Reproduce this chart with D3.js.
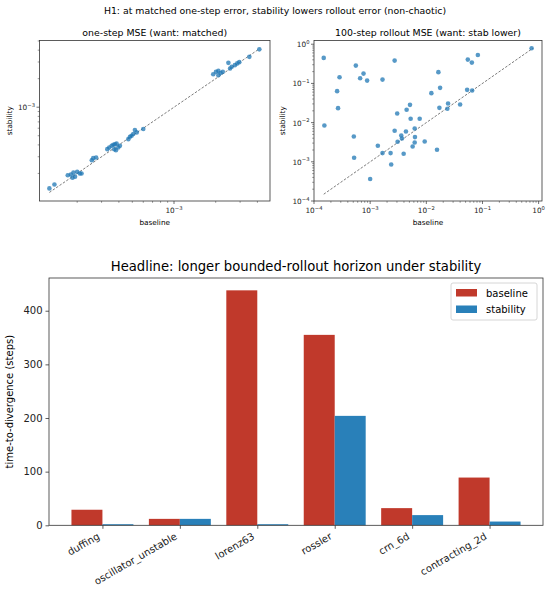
<!DOCTYPE html>
<html>
<head>
<meta charset="utf-8">
<script src="https://cdn.jsdelivr.net/npm/d3@7"></script>
<style>
  body { margin: 0; background: #fff; }
  svg { font-family: "DejaVu Sans", sans-serif; }
</style>
</head>
<body>
<div id="chart"></div>
<script>
// one-step MSE, baseline vs stability
var oneStepBase = [1.26e-4, 1.37e-4, 1.71e-4, 1.80e-4, 1.85e-4, 1.88e-4, 1.93e-4, 2.00e-4, 2.09e-4, 2.15e-4,
  2.55e-4, 2.61e-4, 2.74e-4, 3.30e-4, 3.41e-4, 3.55e-4, 3.65e-4, 3.75e-4, 3.85e-4, 3.81e-4,
  3.96e-4, 4.07e-4, 3.70e-4, 4.68e-4, 4.81e-4, 4.94e-4, 5.08e-4, 5.22e-4, 5.38e-4, 6.00e-4,
  1.92e-3, 2.01e-3, 2.09e-3, 2.17e-3, 2.25e-3, 2.09e-3, 2.47e-3, 2.54e-3, 2.61e-3, 2.75e-3,
  2.86e-3, 2.96e-3, 3.50e-3, 4.13e-3];
var oneStepStab = [1.39e-4, 1.53e-4, 1.91e-4, 1.95e-4, 1.80e-4, 2.04e-4, 1.85e-4, 2.08e-4, 2.00e-4, 2.00e-4,
  2.75e-4, 2.90e-4, 2.94e-4, 3.61e-4, 3.75e-4, 3.92e-4, 4.01e-4, 4.07e-4, 4.14e-4, 3.52e-4,
  3.75e-4, 3.92e-4, 3.60e-4, 4.60e-4, 4.88e-4, 5.00e-4, 5.21e-4, 5.74e-4, 5.42e-4, 5.89e-4,
  2.23e-3, 2.36e-3, 2.42e-3, 2.30e-3, 2.37e-3, 2.17e-3, 2.94e-3, 2.56e-3, 2.67e-3, 2.78e-3,
  2.90e-3, 2.99e-3, 3.40e-3, 4.08e-3];

// 100-step rollout MSE, baseline vs stability
var rolloutBase = [1.49e-4, 2.85e-4, 5.56e-4, 7.62e-4, 6.63e-4, 8.83e-4, 2.73e-3, 1.66e-3, 2.58e-4, 2.68e-4,
  1.53e-4, 5.12e-4, 5.18e-4, 1.00e-3, 1.37e-3, 1.66e-3, 2.31e-3, 2.37e-3, 2.73e-3, 3.03e-3,
  3.08e-3, 3.58e-3, 3.68e-3, 3.95e-3, 4.34e-3, 4.46e-3, 5.12e-3, 5.26e-3, 6.21e-3, 6.28e-3,
  6.21e-3, 5.71e-3, 7.62e-3, 9.36e-3, 0.0123, 0.0164, 0.0176, 0.0171, 0.0155, 0.0244,
  0.0237, 0.040, 0.0548, 0.0647, 0.0828, 0.0533, 0.0655, 0.75];
var rolloutStab = [0.448, 0.144, 0.285, 0.178, 0.136, 0.118, 0.382, 0.125, 0.0635, 0.0234,
  8.44e-3, 4.42e-3, 1.27e-3, 3.64e-4, 2.56e-3, 1.67e-3, 1.67e-3, 8.57e-4, 6.18e-3, 0.0171,
  3.24e-3, 4.69e-3, 3.93e-3, 1.60e-3, 5.93e-3, 0.0212, 0.0284, 0.0125, 7.08e-3, 4.27e-3,
  3.11e-3, 2.46e-3, 0.0125, 3.30e-3, 0.0565, 0.194, 0.077, 0.0238, 2.03e-3, 0.0307,
  0.0225, 0.0289, 0.405, 0.34, 0.533, 0.0685, 0.0658, 0.79];

// time-to-divergence per system
var systems = ["duffing", "oscillator_unstable", "lorenz63", "rossler", "crn_6d", "contracting_2d"];
var ttdBase = [29, 12, 438, 355, 32, 89];
var ttdStab = [2, 12, 2, 204, 19, 7];
var barTicks = [0, 100, 200, 300, 400];

var svg = d3.select("#chart").append("svg")
  .attr("width", 550)
  .attr("height", 597);

var axisColor = "#333";
var dotColor = "#1f77b4";
var baseColor = "#c0392b";
var stabColor = "#2980b9";

svg.append("text")
  .attr("x", 275).attr("y", 14)
  .attr("text-anchor", "middle")
  .attr("font-size", 9.35)
  .text("H1: at matched one-step error, stability lowers rollout error (non-chaotic)");

function supLabel(sel, e) {
  sel.text("");
  sel.append("tspan").text("10");
  sel.append("tspan").attr("dy", -3.5).attr("font-size", "0.72em").text(e < 0 ? "\u2212" + (-e) : String(e));
}

function logTicks(scale, g, orient, majors) {
  var dom = scale.domain();
  var lo = Math.floor(Math.log10(dom[0])), hi = Math.ceil(Math.log10(dom[1]));
  for (var k = lo; k <= hi; k++) {
    for (var m = 1; m <= 9; m++) {
      var v = m * Math.pow(10, k);
      if (v < dom[0] * 0.999 || v > dom[1] * 1.001) continue;
      var p = scale(v);
      var len = m === 1 ? 3 : 1.8;
      if (orient === "bottom") {
        g.append("line").attr("x1", p).attr("x2", p).attr("y1", 0).attr("y2", len)
          .attr("stroke", axisColor).attr("stroke-width", m === 1 ? 0.7 : 0.5);
        if (m === 1 && majors) {
          g.append("text").attr("x", p).attr("y", 12).attr("text-anchor", "middle")
            .attr("font-size", 7.3).attr("fill", "#222").call(supLabel, k);
        }
      } else {
        g.append("line").attr("x1", 0).attr("x2", -len).attr("y1", p).attr("y2", p)
          .attr("stroke", axisColor).attr("stroke-width", m === 1 ? 0.7 : 0.5);
        if (m === 1 && majors) {
          g.append("text").attr("x", -4.5).attr("y", p + 3).attr("text-anchor", "end")
            .attr("font-size", 7.3).attr("fill", "#222").call(supLabel, k);
        }
      }
    }
  }
}

function scatterPanel(box, xDom, yDom, xs, ys, title) {
  var x = d3.scaleLog().domain(xDom).range([box.x0, box.x1]);
  var y = d3.scaleLog().domain(yDom).range([box.y1, box.y0]);
  var g = svg.append("g");

  var pts = xs.map(function(v, i) { return {b: v, s: ys[i]}; });
  var all = xs.concat(ys);
  var lo = d3.min(all), hi = d3.max(all);

  g.append("line")
    .attr("x1", x(lo)).attr("y1", y(lo))
    .attr("x2", x(hi)).attr("y2", y(hi))
    .attr("stroke", "#000").attr("stroke-opacity", 0.65)
    .attr("stroke-width", 0.8).attr("stroke-dasharray", "2.5,1.6");

  g.selectAll("circle")
    .data(pts)
    .enter()
    .append("circle")
    .attr("cx", d => x(d.b))
    .attr("cy", d => y(d.s))
    .attr("r", 2.3)
    .attr("fill", dotColor)
    .attr("opacity", 0.75);

  g.append("rect")
    .attr("x", box.x0).attr("y", box.y0)
    .attr("width", box.x1 - box.x0).attr("height", box.y1 - box.y0)
    .attr("fill", "none").attr("stroke", axisColor).attr("stroke-width", 0.8);

  var gx = g.append("g").attr("transform", `translate(0, ${box.y1})`);
  logTicks(x, gx, "bottom", true);
  var gy = g.append("g").attr("transform", `translate(${box.x0}, 0)`);
  logTicks(y, gy, "left", true);

  g.append("text")
    .attr("x", (box.x0 + box.x1) / 2).attr("y", box.y0 - 4.5)
    .attr("text-anchor", "middle").attr("font-size", 9.4)
    .text(title);
  g.append("text")
    .attr("x", (box.x0 + box.x1) / 2).attr("y", box.y1 + 24)
    .attr("text-anchor", "middle").attr("font-size", 7.3)
    .text("baseline");
  g.append("text")
    .attr("transform", `translate(${box.x0 - (box.labelGap || 29)}, ${(box.y0 + box.y1) / 2}) rotate(-90)`)
    .attr("text-anchor", "middle").attr("font-size", 7.3)
    .text("stability");
}

scatterPanel({x0: 39.5, x1: 270, y0: 40.5, y1: 201, labelGap: 28},
  [Math.pow(10, -3.971), Math.pow(10, -2.307)],
  [Math.pow(10, -3.99), Math.pow(10, -2.296)],
  oneStepBase, oneStepStab, "one-step MSE (want: matched)");

scatterPanel({x0: 314, x1: 542, y0: 40.5, y1: 201, labelGap: 29},
  [1e-4, Math.pow(10, 0.06)],
  [1e-4, Math.pow(10, 0.095)],
  rolloutBase, rolloutStab, "100-step rollout MSE (want: stab lower)");

// bar chart
var bm = {left: 49, right: 543, top: 278, bottom: 525.3};
var xBar = d3.scaleLinear().domain([-0.69, 5.69]).range([bm.left, bm.right]);
var yBar = d3.scaleLinear().domain([0, 461]).range([bm.bottom, bm.top]);
var bw = 0.4;
var bars = svg.append("g");

bars.selectAll("rect.base")
  .data(ttdBase)
  .enter()
  .append("rect")
  .attr("class", "base")
  .attr("x", (d, i) => xBar(i - bw))
  .attr("y", d => yBar(d))
  .attr("width", xBar(bw) - xBar(0))
  .attr("height", d => yBar(0) - yBar(d))
  .attr("fill", baseColor);

bars.selectAll("rect.stab")
  .data(ttdStab)
  .enter()
  .append("rect")
  .attr("class", "stab")
  .attr("x", (d, i) => xBar(i))
  .attr("y", d => yBar(d))
  .attr("width", xBar(bw) - xBar(0))
  .attr("height", d => yBar(0) - yBar(d))
  .attr("fill", stabColor);

var leftAxis = d3.axisLeft(yBar).tickValues(barTicks).tickSize(3.5).tickPadding(3);
var gyb = svg.append("g").attr("transform", `translate(${bm.left}, 0)`).call(leftAxis);
gyb.select(".domain").remove();
gyb.selectAll("text").attr("font-size", 10).attr("font-family", "DejaVu Sans").attr("fill", "#222");
gyb.selectAll("line").attr("stroke", axisColor).attr("stroke-width", 0.8);

var bottomAxis = d3.axisBottom(xBar).tickValues(d3.range(systems.length))
  .tickFormat(i => systems[i]).tickSize(3.5).tickPadding(3);
var gxb = svg.append("g").attr("transform", `translate(0, ${bm.bottom})`).call(bottomAxis);
gxb.select(".domain").remove();
gxb.selectAll("line").attr("stroke", axisColor).attr("stroke-width", 0.8);
gxb.selectAll("text")
  .attr("font-size", 10).attr("font-family", "DejaVu Sans").attr("fill", "#222")
  .attr("text-anchor", "end")
  .attr("dy", null).attr("y", 0)
  .attr("transform", "translate(-2.5, 13) rotate(-30)");

svg.append("rect")
  .attr("x", bm.left).attr("y", bm.top)
  .attr("width", bm.right - bm.left).attr("height", bm.bottom - bm.top)
  .attr("fill", "none").attr("stroke", axisColor).attr("stroke-width", 0.8);

svg.append("text")
  .attr("x", (bm.left + bm.right) / 2).attr("y", bm.top - 7)
  .attr("text-anchor", "middle").attr("font-size", 13.2)
  .text("Headline: longer bounded-rollout horizon under stability");

svg.append("text")
  .attr("transform", `translate(13, ${(bm.top + bm.bottom) / 2}) rotate(-90)`)
  .attr("text-anchor", "middle").attr("font-size", 10)
  .text("time-to-divergence (steps)");

// legend
var legend = svg.append("g").attr("transform", "translate(451, 283)");
legend.append("rect")
  .attr("width", 86).attr("height", 37).attr("rx", 2)
  .attr("fill", "#fff").attr("fill-opacity", 0.8)
  .attr("stroke", "#ccc").attr("stroke-width", 0.8);
[["baseline", baseColor], ["stability", stabColor]].forEach(function(e, i) {
  legend.append("rect")
    .attr("x", 5).attr("y", 6 + i * 16.5)
    .attr("width", 21).attr("height", 7.5)
    .attr("fill", e[1]);
  legend.append("text")
    .attr("x", 35).attr("y", 13.5 + i * 16.5)
    .attr("font-size", 10)
    .text(e[0]);
});
</script>
</body>
</html>
